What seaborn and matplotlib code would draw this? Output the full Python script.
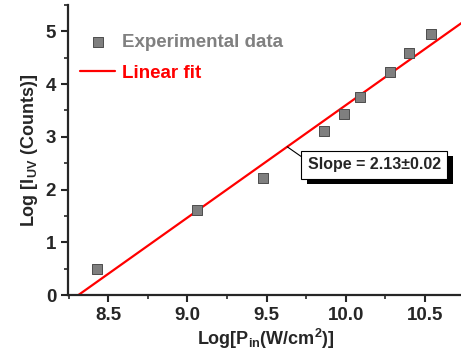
import numpy as np
import pandas as pd
import matplotlib
matplotlib.use("Agg")
import matplotlib.pyplot as plt
import matplotlib.patheffects as pe
import seaborn as sns

# --- datos ---
log_p = [8.43, 9.06, 9.48, 9.86, 9.99, 10.09, 10.28, 10.40, 10.54]
log_i = [0.49, 1.61, 2.22, 3.11, 3.43, 3.76, 4.23, 4.59, 4.95]
pendiente = 2.13
x_cero = 8.31  # donde la recta corta y = 0

df = pd.DataFrame({"x": log_p, "y": log_i})
x_fit = [8.2, 10.8]
df_fit = pd.DataFrame({"x": x_fit, "y": [pendiente * (v - x_cero) for v in x_fit]})

sns.set_style("ticks")
plt.rcParams["font.family"] = ["Liberation Sans", "DejaVu Sans"]
plt.rcParams["font.weight"] = "bold"
plt.rcParams["mathtext.default"] = "bf"
plt.rcParams["mathtext.fontset"] = "custom"
plt.rcParams["mathtext.bf"] = "Liberation Sans:bold"

fig = plt.figure(figsize=(4.61, 3.53), dpi=100)
ax = fig.add_axes([0.1475, 0.164, 0.86, 0.822])

sns.lineplot(data=df_fit, x="x", y="y", color="#ff0000", lw=1.6, ax=ax, label="Linear fit")
sns.scatterplot(data=df, x="x", y="y", marker="s", s=55, color="#7f7f7f",
                edgecolor="#4d4d4d", linewidth=0.7, ax=ax, label="Experimental data", zorder=3)

ax.set_xlim(8.245, 10.75)
ax.set_ylim(0, 5.5)
ax.set_xticks([8.5, 9.0, 9.5, 10.0, 10.5])
ax.set_xticks(np.arange(8.25, 10.76, 0.25), minor=True)
ax.set_yticks([0, 1, 2, 3, 4, 5])
ax.set_yticks(np.arange(0, 5.6, 0.5), minor=True)
ax.tick_params(axis="both", which="major", length=5, width=1.5, labelsize=13.5, direction="out")
ax.tick_params(axis="both", which="minor", length=3, width=1.2, direction="out")
for t in ax.get_xticklabels() + ax.get_yticklabels():
    t.set_fontweight("bold")

sns.despine(ax=ax)
for s in ["left", "bottom"]:
    ax.spines[s].set_linewidth(1.6)

ax.set_xlabel(r"Log[P$_{in}$(W/cm$^{2}$)]", fontsize=13, fontweight="bold", labelpad=2)
ax.set_ylabel(r"Log [I$_{UV}$ (Counts)]", fontsize=13, fontweight="bold", labelpad=4)

handles, labels = ax.get_legend_handles_labels()
orden = [1, 0]
leg = ax.legend([handles[i] for i in orden], [labels[i] for i in orden],
                loc="upper left", bbox_to_anchor=(-0.013, 0.96), frameon=False,
                fontsize=13.5, handlelength=1.9, handletextpad=0.35, labelspacing=0.75)
for txt, col in zip(leg.get_texts(), ["#808080", "#ff0000"]):
    txt.set_color(col)
    txt.set_fontweight("bold")

an = ax.annotate("Slope = 2.13\u00b10.02", xy=(9.63, pendiente * (9.63 - x_cero)),
                 xytext=(10.18, 2.47), fontsize=11.5, fontweight="bold", va="center", ha="center",
                 bbox=dict(boxstyle="square,pad=0.4", fc="white", ec="black", lw=0.8),
                 arrowprops=dict(arrowstyle="-", color="black", lw=0.8, shrinkA=0, shrinkB=0,
                                 relpos=(0, 0.75)))
an.get_bbox_patch().set_path_effects([
    pe.SimplePatchShadow(offset=(4, -4), shadow_rgbFace="black", alpha=1), pe.Normal()])

fig.savefig("out.png", dpi=100)
